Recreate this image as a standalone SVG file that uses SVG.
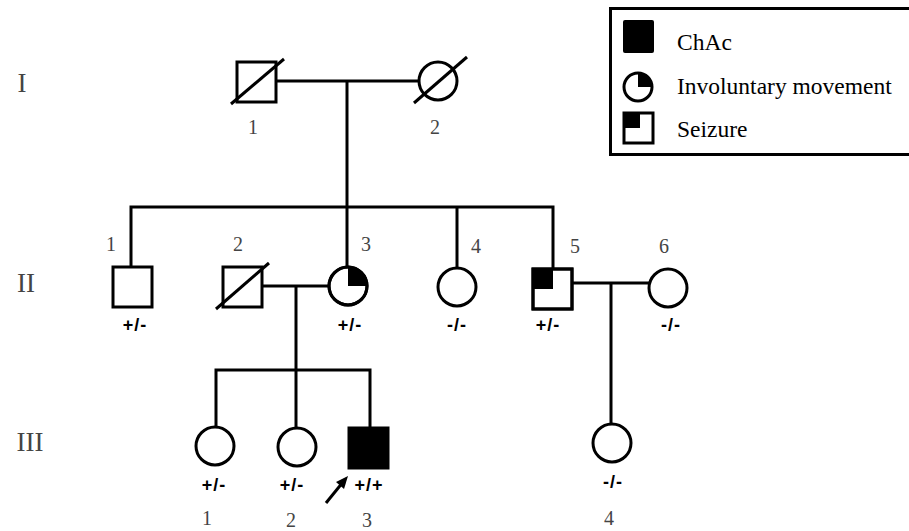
<svg xmlns="http://www.w3.org/2000/svg" width="909" height="531" viewBox="0 0 909 531">
<style>
.ln{stroke:#000;stroke-width:3;fill:none}
.sym{stroke:#000;stroke-width:3;fill:#fff}
.fill{fill:#000;stroke:none}
.num{font-family:"Liberation Serif",serif;font-size:20px;fill:#444;text-anchor:middle}
.gen{font-family:"Liberation Serif",serif;font-size:27px;fill:#444;text-anchor:middle}
.gt{font-family:"Liberation Sans",Arial,sans-serif;font-size:18px;font-weight:bold;fill:#000;text-anchor:middle;letter-spacing:1px}
.lg{font-family:"Liberation Serif",serif;font-size:23.5px;fill:#000}
</style>
<rect width="909" height="531" fill="#fff"/>
<g id="connectors">
<line class="ln" x1="276" y1="81" x2="419" y2="81"/>
<line class="ln" x1="347" y1="81" x2="347" y2="207"/>
<polyline class="ln" points="131,267 131,207 553,207 553,269"/>
<line class="ln" x1="347" y1="207" x2="347" y2="267"/>
<line class="ln" x1="457" y1="207" x2="457" y2="268"/>
<line class="ln" x1="262" y1="286" x2="329" y2="286"/>
<line class="ln" x1="296" y1="286" x2="296" y2="428"/>
<polyline class="ln" points="216,427 216,370 370,370 370,428"/>
<line class="ln" x1="572" y1="283" x2="649" y2="283"/>
<line class="ln" x1="611" y1="283" x2="611" y2="424"/>
</g>
<g id="gen-labels">
<text class="gen" x="22" y="92">I</text>
<text class="gen" x="26" y="292">II</text>
<text class="gen" x="30" y="451">III</text>
</g>
<g id="I-1">
<rect class="sym" x="237" y="62" width="39" height="40"/>
<line class="ln" x1="231" y1="104" x2="284" y2="59"/>
<text class="num" x="253" y="134">1</text>
</g>
<g id="I-2">
<circle class="sym" cx="438" cy="81" r="19"/>
<line class="ln" x1="414" y1="103" x2="467" y2="57"/>
<text class="num" x="435" y="134">2</text>
</g>
<g id="II-1">
<rect class="sym" x="113" y="267" width="39" height="40"/>
<text class="num" x="111" y="251">1</text>
<text class="gt" x="135" y="331">+/-</text>
</g>
<g id="II-2">
<rect class="sym" x="223" y="267" width="39" height="40"/>
<line class="ln" x1="216" y1="309" x2="269" y2="263"/>
<text class="num" x="238" y="251">2</text>
</g>
<g id="II-3">
<circle class="sym" cx="348" cy="286" r="19"/>
<path class="fill" d="M348,286 L348,267 A19,19 0 0 1 367,286 Z"/>
<circle cx="348" cy="286" r="19" fill="none" stroke="#000" stroke-width="3"/>
<text class="num" x="366" y="251">3</text>
<text class="gt" x="350" y="331">+/-</text>
</g>
<g id="II-4">
<circle class="sym" cx="457" cy="287" r="19"/>
<text class="num" x="476" y="253">4</text>
<text class="gt" x="457" y="331">-/-</text>
</g>
<g id="II-5">
<rect class="sym" x="533" y="269" width="39" height="40"/>
<rect class="fill" x="533" y="269" width="20" height="20"/>
<rect x="533" y="269" width="39" height="40" fill="none" stroke="#000" stroke-width="3"/>
<text class="num" x="575" y="253">5</text>
<text class="gt" x="548" y="331">+/-</text>
</g>
<g id="II-6">
<circle class="sym" cx="668" cy="288" r="19"/>
<text class="num" x="664" y="253">6</text>
<text class="gt" x="671" y="331">-/-</text>
</g>
<g id="III-1">
<circle class="sym" cx="215" cy="446" r="19"/>
<text class="gt" x="214" y="491">+/-</text>
<text class="num" x="207" y="525">1</text>
</g>
<g id="III-2">
<circle class="sym" cx="297" cy="447" r="19"/>
<text class="gt" x="292" y="491">+/-</text>
<text class="num" x="291" y="527">2</text>
</g>
<g id="III-3">
<rect x="349" y="428" width="39" height="40" fill="#000" stroke="#000" stroke-width="3"/>
<text class="gt" x="369" y="491">+/+</text>
<text class="num" x="367" y="527">3</text>
<line class="ln" x1="326" y1="503" x2="343" y2="482"/>
<path class="fill" d="M348,476 L336,482 L344,489 Z"/>
</g>
<g id="III-4">
<circle class="sym" cx="612" cy="443" r="19"/>
<text class="gt" x="613" y="488">-/-</text>
<text class="num" x="609" y="525">4</text>
</g>
<g id="legend">
<rect x="610.5" y="8.5" width="300" height="146" fill="#fff" stroke="#000" stroke-width="3"/>
<rect x="623" y="20" width="31" height="33" fill="#000" rx="2"/>
<text class="lg" x="677" y="50">ChAc</text>
<circle cx="638" cy="87" r="14" fill="#fff" stroke="#000" stroke-width="3"/>
<path class="fill" d="M638,87 L638,73 A14,14 0 0 1 652,87 Z"/>
<text class="lg" x="677" y="94">Involuntary movement</text>
<rect x="624" y="113" width="29" height="30" fill="#fff" stroke="#000" stroke-width="3"/>
<rect class="fill" x="624" y="113" width="16" height="15"/>
<text class="lg" x="677" y="137">Seizure</text>
</g>
</svg>
